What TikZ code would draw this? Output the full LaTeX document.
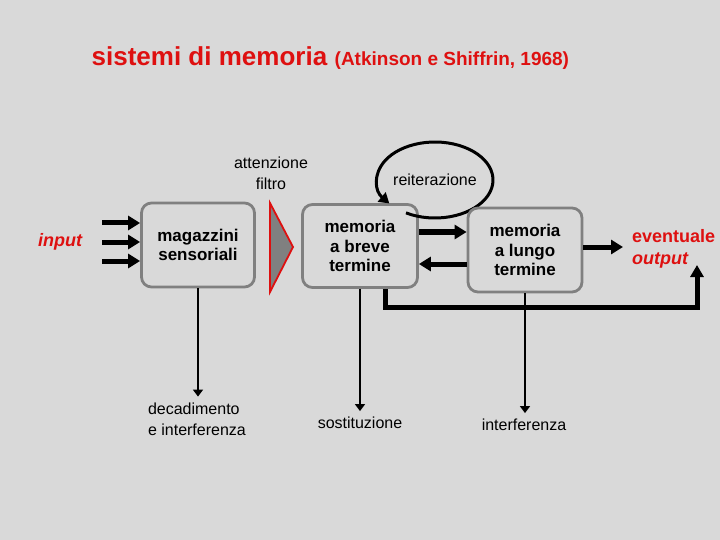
\documentclass[tikz,border=0pt]{standalone}
\usepackage{fontspec}
\setmainfont{Liberation Sans}
\usepackage{tikz}
\usetikzlibrary{arrows.meta, positioning}
\usepackage{xcolor}
\definecolor{slidegray}{RGB}{217, 217, 217}
\definecolor{boxgray}{RGB}{128, 128, 128}
\definecolor{titlered}{RGB}{222, 16, 16}

\begin{document}
\begin{tikzpicture}[
			x=1pt, y=-1pt,
			line width=1.4pt,
			store/.style={draw=boxgray, line width=2.8pt, rounded corners=10pt, fill=slidegray,
				align=center, font=\fontsize{17}{19.5}\selectfont\bfseries},
			fat/.style={-{Triangle[length=12pt, width=14pt]}, line width=5pt},
			thin/.style={-{Triangle[length=7pt, width=10pt]}, line width=1.6pt},
			lbl/.style={font=\fontsize{16}{21}\selectfont},
			rlbl/.style={text=titlered, font=\fontsize{18}{22}\selectfont\bfseries}
		]

		%% background (fixes the page size)
		\fill[slidegray] (0,0) rectangle (720,540);

		%% title
		\node[anchor=base west, inner sep=0pt, text=titlered, font=\fontsize{26}{30}\selectfont\bfseries]
			(title) at (91,66) {sistemi di memoria};
		\node[anchor=base west, inner sep=0pt, text=titlered, font=\fontsize{19}{22}\selectfont\bfseries]
			(cite) at (334,66) {(Atkinson e Shiffrin, 1968)};

		%% 1. sensory stores
		\node[store, minimum width=113pt, minimum height=84pt] (ms) at (198,245)
			{magazzini\\sensoriali};
		\node[rlbl, font=\fontsize{18}{22}\selectfont\bfseries\itshape] (inp) at (60,242) {input};
		\foreach \dy in {22,3,-16}
			\draw[fat] ([xshift=-38pt, yshift=\dy pt]ms.west) -- ([yshift=\dy pt]ms.west);

		%% 2. attention filter
		\node[lbl, align=center] (att) at (271,173) {attenzione\\filtro};
		\draw[draw=titlered, fill=boxgray, line width=1.8pt]
			(270,203) -- (293,247) -- (270,292) -- cycle;

		%% 3. short-term store
		\node[store, minimum width=115pt, minimum height=83pt] (mbt) at (360,246)
			{memoria\\a breve\\termine};

		%% rehearsal loop
		\node[lbl] (reit) at (435,180) {reiterazione};
		\draw[-{Triangle[length=10pt, width=12pt]}, line width=3pt]
			([shift={(120:58 and 38)}]reit.center)
			arc[start angle=120, end angle=-218, x radius=58, y radius=38];

		%% 4. long-term store
		\node[store, minimum width=114pt, minimum height=84pt] (mlt) at (525,250)
			{memoria\\a lungo\\termine};
		\draw[fat] ([yshift=14pt]mbt.east) -- ([yshift=14pt]mbt.east -| mlt.west);
		\draw[fat] ([yshift=-14pt]mlt.west) -- ([yshift=-14pt]mlt.west -| mbt.east);

		%% output
		\node[rlbl, anchor=west, align=left] (out) at (628,249)
			{eventuale\\\textit{output}};
		\draw[fat, shorten >=5pt] ([yshift=3pt]mlt.east) -- ([yshift=3pt]mlt.east -| out.west);
		\coordinate (ret) at (697,265);
		\draw[fat, -{Triangle[length=12pt, width=13pt]}]
			([xshift=25pt]mbt.south) -- ++(0,19) -| (ret);

		%% forgetting
		\node[lbl, anchor=west, align=left] (dec) at (144,419)
			{decadimento\\e interferenza};
		\node[lbl] (sost) at (360,423) {sostituzione};
		\node[lbl] (interf) at (524,425) {interferenza};
		\draw[thin] (ms.south) -- ([yshift=2pt]ms.south |- dec.north);
		\draw[thin] (mbt.south) -- ([yshift=2pt]mbt.south |- sost.north);
		\draw[thin] (mlt.south) -- ([yshift=2pt]mlt.south |- interf.north);

		\end{tikzpicture}
\end{document}
